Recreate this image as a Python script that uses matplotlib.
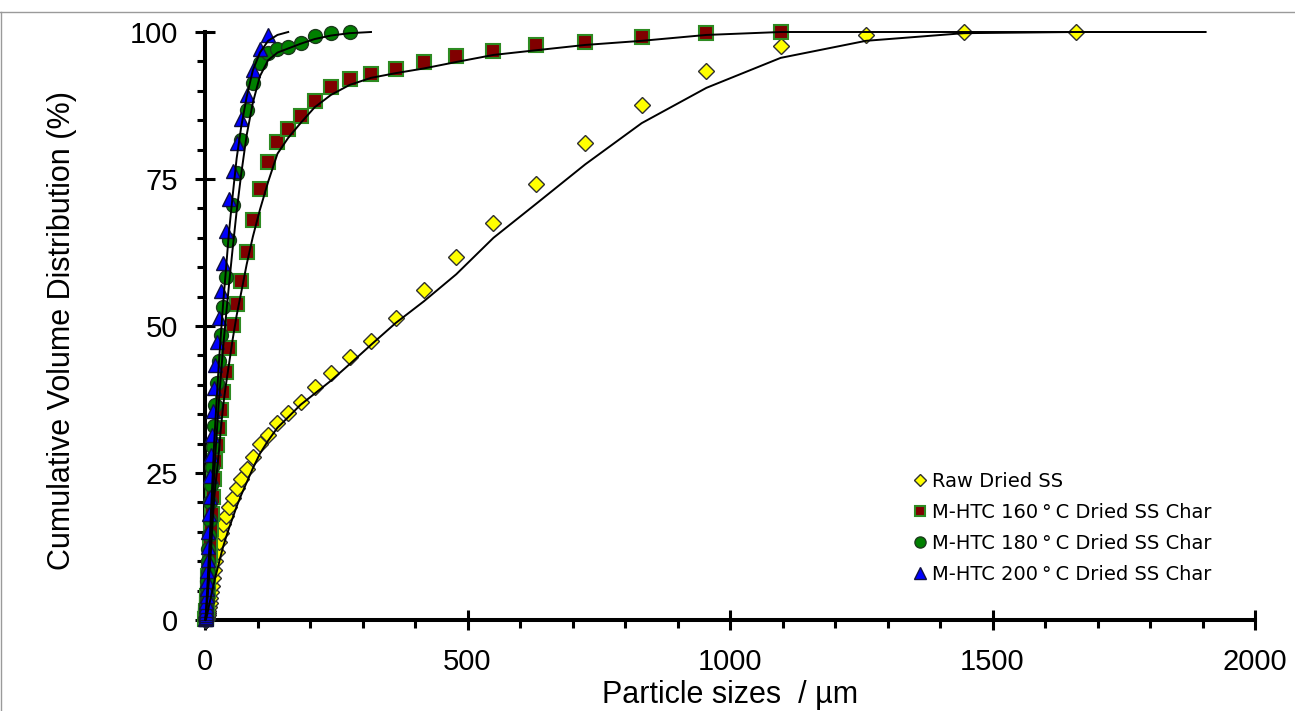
import matplotlib
matplotlib.use('Agg')
import matplotlib.pyplot as plt
from matplotlib.lines import Line2D
from matplotlib.ticker import MultipleLocator

# particle size bins (um), shared by all series
bins = [0.832, 0.955, 1.096, 1.259, 1.445, 1.660, 1.905, 2.188, 2.512, 2.884,
        3.311, 3.802, 4.365, 5.012, 5.754, 6.607, 7.586, 8.710,
        10.00, 11.48, 13.18, 15.14, 17.38, 19.95, 22.91, 26.30, 30.20, 34.67,
        39.81, 45.71, 52.48, 60.26, 69.18, 79.43, 91.20, 104.7, 120.2, 138.0,
        158.5, 182.0, 208.9, 239.9, 275.4, 316.2, 363.1, 416.9, 478.6, 549.5,
        631.0, 724.4, 831.8, 955.0, 1096.5, 1258.9, 1445.4, 1659.6, 1905.5]

# measured points (cumulative %)
raw_pts = [0.0, 0.01, 0.01, 0.02, 0.03, 0.05, 0.08, 0.12, 0.18, 0.25, 0.35, 0.5,
           0.65, 0.9, 1.2, 1.6, 2.2, 2.9,
           3.7, 4.7, 5.8, 7.1, 8.5, 10.0, 11.6, 13.2, 14.8, 16.3, 17.7, 19.2,
           20.7, 22.4, 24.0, 25.7, 27.7, 29.9, 31.5, 33.5, 35.2, 37.1, 39.6,
           42.0, 44.7, 47.4, 51.4, 56.2, 61.7, 67.5, 74.1, 81.1, 87.6, 93.4,
           97.6, 99.5, 100, 100]
htc160_pts = [0.12, 0.2, 0.3, 0.4, 0.5, 0.7, 0.9, 1.2, 1.5, 2.0, 2.5, 3.2, 4.0,
              5.0, 6.0, 7.5, 9.0, 11.0,
              13.0, 15.5, 18.0, 21.0, 24.0, 27.0, 29.8, 32.7, 35.7, 38.8, 42.2,
              46.3, 50.2, 53.7, 57.7, 62.6, 68.0, 73.3, 77.9, 81.3, 83.5, 85.7,
              88.3, 90.6, 92.0, 92.9, 93.7, 94.9, 95.9, 96.8, 97.8, 98.3, 99.2,
              99.8, 100]
htc180_pts = [0.1, 0.2, 0.35, 0.55, 0.8, 1.1, 1.5, 2.0, 2.6, 3.4, 4.3, 5.4, 6.7,
              8.2, 10.0, 12.0, 14.5, 17.0,
              20.0, 23.0, 26.0, 29.5, 33.0, 36.5, 40.3, 44.0, 48.5, 53.2, 58.3,
              64.6, 70.6, 76.0, 81.6, 86.7, 91.3, 94.7, 96.5, 97.1, 97.4, 98.1,
              99.3, 99.8, 100]
htc200_pts = [0.1, 0.2, 0.35, 0.55, 0.85, 1.2, 1.7, 2.3, 3.1, 4.1, 5.3, 6.7, 8.3,
              10.2, 12.5, 15.0, 18.0, 21.0,
              24.5, 28.0, 31.5, 35.5, 39.5, 43.4, 47.3, 51.4, 56.0, 60.7, 66.2,
              71.6, 76.4, 81.1, 85.2, 89.3, 93.5, 97.1, 99.5]

# black curves
raw_fit = [0, 0.02, 0.04, 0.06, 0.09, 0.13, 0.18, 0.25, 0.35, 0.45, 0.6, 0.8,
           1.0, 1.3, 1.6, 2.0, 2.4, 2.9,
           3.4, 4.0, 4.7, 5.5, 6.4, 7.4, 8.4, 9.6, 11.0, 12.5, 14.0, 15.6, 17.3,
           19.3, 21.3, 23.4, 25.8, 28.3, 30.5, 32.7, 34.5, 36.6, 38.5, 40.7,
           43.5, 46.8, 50.5, 54.2, 58.8, 65.0, 70.8, 77.5, 84.5, 90.5, 95.6,
           98.5, 99.8, 100, 100]
htc160_fit = [0.2, 0.3, 0.45, 0.6, 0.8, 1.0, 1.25, 1.5, 1.85, 2.2, 2.6, 3.0, 3.6,
              4.2, 5.0, 6.0, 7.2, 8.5,
              10.2, 12.0, 14.5, 17.5, 20.5, 23.0, 25.5, 28.5, 32.5, 36.5, 40.0,
              43.5, 47.6, 51.8, 55.8, 60.5, 65.2, 69.8, 74.5, 79.3, 82.0, 84.5,
              87.2, 89.3, 91.0, 92.2, 93.0, 93.8, 94.9, 96.1, 96.9, 97.8, 98.5,
              99.5, 100, 100, 100, 100, 100]
htc180_fit = [0.1, 0.2, 0.3, 0.4, 0.6, 0.8, 1.0, 1.3, 1.6, 2.0, 2.5, 3.0, 3.7,
              4.5, 5.4, 6.5, 8.0, 9.5,
              11.5, 14.0, 17.0, 20.5, 24.5, 28.5, 32.5, 37.0, 41.5, 46.5, 51.5,
              57.0, 63.0, 69.5, 76.0, 82.5, 88.0, 92.5, 95.2, 96.5, 97.2, 98.0,
              98.8, 99.4, 99.8, 100]
htc200_fit = [0.1, 0.2, 0.35, 0.5, 0.75, 1.0, 1.4, 1.8, 2.4, 3.0, 3.7, 4.5, 5.5,
              6.5, 8.0, 9.5, 11.2, 13.0,
              15.5, 18.5, 22.0, 25.5, 30.0, 34.0, 38.5, 43.5, 48.5, 54.0, 59.5,
              66.0, 72.0, 78.5, 84.0, 89.0, 93.5, 96.5, 98.5, 99.5, 100]

labels = ['Raw Dried SS', 'M-HTC 160\u2009\u00b0\u2009C Dried SS Char',
          'M-HTC 180\u2009\u00b0\u2009C Dried SS Char',
          'M-HTC 200\u2009\u00b0\u2009C Dried SS Char']

plt.rcParams['font.family'] = ['Liberation Sans', 'DejaVu Sans']

fig = plt.figure(figsize=(12.95, 7.11), dpi=100)
ax = fig.add_axes([205 / 1295, 91 / 711, 1050 / 1295, 588 / 711])

styles = [
    dict(marker='D', ms=8, mfc='#FFFF00', mec='#303030', mew=1.0),
    dict(marker='s', ms=10, mfc='#800000', mec='#2E8B22', mew=1.5),
    dict(marker='o', ms=10, mfc='#008000', mec='#1C3A1C', mew=1.0),
    dict(marker='^', ms=10, mfc='#0000FF', mec='#101040', mew=1.0),
]
legend_ms = [6.5, 7.5, 8, 8.5]
pts = [raw_pts, htc160_pts, htc180_pts, htc200_pts]
fits = [raw_fit, htc160_fit, htc180_fit, htc200_fit]

for i, (p, st) in enumerate(zip(pts, styles)):
    ax.plot(bins[:len(p)], p, ls='none', clip_on=False, zorder=3 + i, **st)
for f in fits:
    ax.plot(bins[:len(f)], f, color='black', lw=1.4, zorder=10, clip_on=False)

ax.set_xlim(0, 2000)
ax.set_ylim(0, 100)
ax.xaxis.set_major_locator(MultipleLocator(500))
ax.xaxis.set_minor_locator(MultipleLocator(100))
ax.yaxis.set_major_locator(MultipleLocator(25))
ax.yaxis.set_minor_locator(MultipleLocator(5))

for s in ['top', 'right']:
    ax.spines[s].set_visible(False)
for s in ['left', 'bottom']:
    ax.spines[s].set_linewidth(2.9)
ax.tick_params(which='major', direction='inout', length=14.4, width=2.2,
               labelsize=21)
ax.tick_params(which='minor', direction='out', length=5.8, width=2.2)
ax.tick_params(axis='y', which='major', pad=12)
ax.tick_params(axis='x', which='major', pad=13)

ax.set_xlabel('Particle sizes  / \u00b5m', fontsize=22)
ax.set_ylabel('Cumulative Volume Distribution (%)', fontsize=22)
ax.xaxis.set_label_coords(0.5, -0.102)
ax.yaxis.set_label_coords(-0.122, 0.493)

handles = [Line2D([], [], ls='none', marker=st['marker'], ms=m,
                  mfc=st['mfc'], mec=st['mec'], mew=st['mew'])
           for st, m in zip(styles, legend_ms)]
ax.legend(handles, labels, loc='upper left', bbox_to_anchor=(0.674, 0.252),
          frameon=False, prop={'family': 'DejaVu Sans', 'size': 14},
          handlelength=0.8, handletextpad=0.2, labelspacing=0.62,
          borderpad=0, borderaxespad=0)

# thin grey frame around the picture
fig.add_artist(Line2D([0.5 / 1295, 0.5 / 1295], [0, 699 / 711],
                      transform=fig.transFigure, color='#9a9a9a', lw=1))
fig.add_artist(Line2D([0, 1], [699 / 711, 699 / 711],
                      transform=fig.transFigure, color='#9a9a9a', lw=1))

fig.savefig('out.png', dpi=100)
